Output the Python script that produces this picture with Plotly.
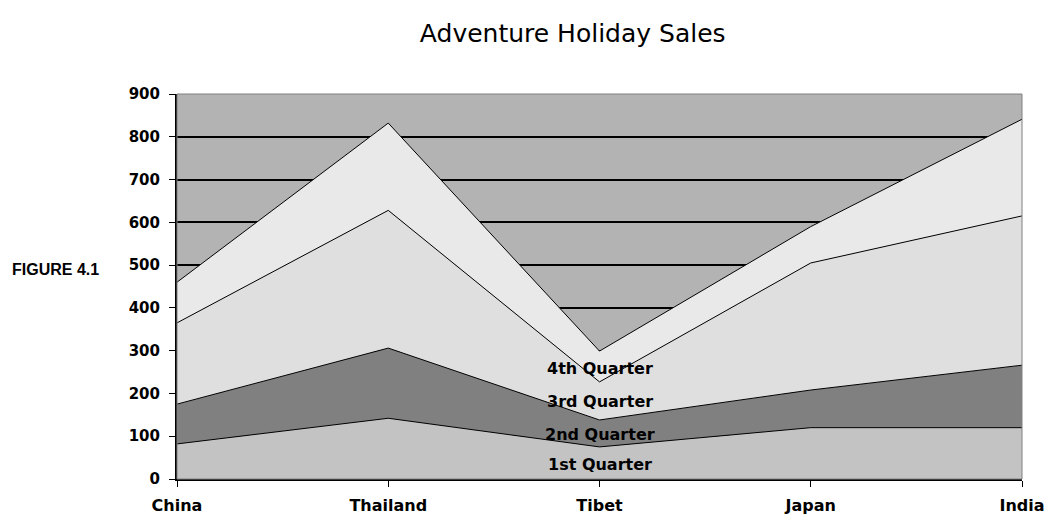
import plotly.graph_objects as go

countries = ["China", "Thailand", "Tibet", "Japan", "India"]
q1 = [82, 142, 75, 120, 120]
q2 = [93, 164, 63, 88, 146]
q3 = [190, 322, 89, 297, 349]
q4 = [95, 204, 72, 85, 226]
series_names = ["1st Quarter", "2nd Quarter", "3rd Quarter", "4th Quarter"]
series_vals = [q1, q2, q3, q4]
fills = ["#c3c3c3", "#808080", "#dfdfdf", "#e9e9e9"]
label_y = [35, 103, 182, 259]
y_ticks = [0, 100, 200, 300, 400, 500, 600, 700, 800, 900]

BOLD = "DejaVu Sans"
xpos = list(range(len(countries)))
fig = go.Figure()
for name, vals, col in zip(series_names, series_vals, fills):
    fig.add_trace(go.Scatter(
        x=xpos, y=vals, name=name, mode="lines", stackgroup="one",
        fillcolor=col, line=dict(color="#000000", width=1),
        hoverinfo="skip"))

for name, ly in zip(series_names, label_y):
    fig.add_annotation(x=2, y=ly, text="<b>%s</b>" % name, showarrow=False,
                       xanchor="center", yanchor="middle",
                       font=dict(family=BOLD, size=16, color="#000000"))

fig.add_annotation(xref="paper", yref="paper", x=-0.1976, y=0.543, text="<b>FIGURE 4.1</b>",
                   showarrow=False, xanchor="left", yanchor="middle",
                   font=dict(family="Liberation Sans, Arial", size=16, color="#000000"))

fig.add_shape(type="rect", xref="paper", yref="paper", x0=0, x1=1, y0=0, y1=1,
              line=dict(color="#808080", width=1), layer="above")

fig.update_layout(
    width=1047, height=516,
    margin=dict(l=177, r=25, t=94, b=37),
    paper_bgcolor="#ffffff", plot_bgcolor="#b3b3b3",
    showlegend=False,
    title=dict(text="Adventure Holiday Sales", x=0.547, xref="container", xanchor="center",
               y=0.936, yanchor="middle",
               font=dict(family="DejaVu Sans", size=25, color="#000000")),
    font=dict(family=BOLD, color="#000000"),
)
fig.update_xaxes(range=[0, 4], tickvals=xpos, ticktext=["<b>%s</b>" % c for c in countries],
                 showgrid=False, zeroline=False, showline=True, linecolor="#000000", linewidth=2,
                 ticks="outside", ticklen=6, tickcolor="#000000", automargin=False,
                 ticklabelstandoff=5,
                 tickfont=dict(size=16, family=BOLD))
fig.update_yaxes(range=[0, 900], tickvals=y_ticks, ticktext=["<b>%d</b>" % v for v in y_ticks],
                 showgrid=True, gridcolor="#000000", gridwidth=1.5, zeroline=False,
                 showline=True, linecolor="#000000", linewidth=2, automargin=False,
                 ticks="outside", ticklen=6, tickcolor="#000000", ticklabelstandoff=6,
                 tickfont=dict(size=15, family=BOLD))

fig.write_html("out.html")
